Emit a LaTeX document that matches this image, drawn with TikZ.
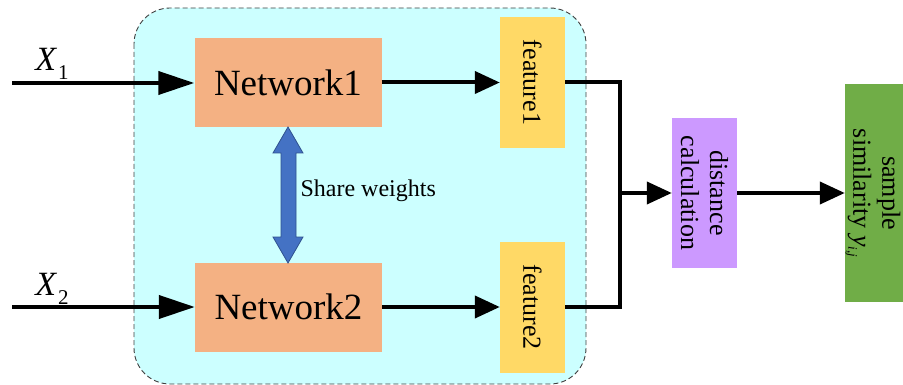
\documentclass[tikz,border=0pt]{standalone}
\usepackage{fontspec}
\setmainfont{Liberation Serif}
\usetikzlibrary{arrows.meta,calc}

\definecolor{panelbg}{RGB}{204,255,255}
\definecolor{netfill}{RGB}{244,177,131}
\definecolor{featfill}{RGB}{255,217,102}
\definecolor{distfill}{RGB}{204,153,255}
\definecolor{simfill}{RGB}{112,173,71}
\definecolor{sharefill}{RGB}{68,114,196}
\definecolor{shareedge}{RGB}{47,82,143}

\newcommand{\inputlabel}[1]{{\fontsize{34}{36}\selectfont\textit{X}}\kern1pt\raisebox{-9pt}{\fontsize{21}{22}\selectfont #1}}

\tikzset{
  netbox/.style={fill=netfill, minimum width=187pt, minimum height=89pt,
    inner sep=0pt, font=\fontsize{37}{40}\selectfont},
  featbox/.style={fill=featfill, minimum width=65pt, minimum height=131pt, inner sep=0pt},
  vlabel/.style={rotate=-90, align=center, font=\fontsize{26}{29}\selectfont},
  flow/.style={line width=4pt},
  bigtip/.style={-{Triangle[length=36pt,width=23pt]}},
  smalltip/.style={-{Triangle[length=25pt,width=22pt]}},
}

\begin{document}
\begin{tikzpicture}[x=1pt,y=-1pt]
\useasboundingbox (0,0) rectangle (903,385);
\clip (0,0) rectangle (903,385);

% shared panel behind the two branches
\draw[fill=panelbg, dash pattern=on 5pt off 3pt, draw=black!75, line width=0.9pt, rounded corners=36pt]
  (134,8) rectangle (586,384);

% boxes
\node[netbox] (n1) at (288,82.5) {Network1};
\node[netbox] (n2) at (288.5,307) {Network2};

\node[featbox] (f1) at (532.5,82.5) {};
\node[vlabel] (f1t) at (f1) {feature1};
\node[featbox] (f2) at (532.5,307) {};
\node[vlabel] (f2t) at (f2) {feature2};

\node[fill=distfill, minimum width=65pt, minimum height=150pt, inner sep=0pt]
  (d) at (704.5,193) {};
\node[vlabel] (dt) at (d) {distance\\calculation};

\node[fill=simfill, minimum width=66pt, minimum height=218pt, inner sep=0pt]
  (s) at (878,193) {};
\node[vlabel] (st) at (873,193)
  {sample\\similarity \textit{y}\raisebox{-5pt}{\fontsize{13}{14}\selectfont\textit{i,j}}};

% inputs
\coordinate (x1) at (12,83);
\coordinate (x2) at (12,307);
\node (x1t) at (52,64) {\inputlabel{1}};
\node (x2t) at (52,289) {\inputlabel{2}};

\draw[flow, bigtip] (x1) -- (x1 -| n1.west);
\draw[flow, bigtip] (x2) -- (x2 -| n2.west);

% network outputs to features
\draw[flow, smalltip] (n1.east) -- (n1.east -| f1.west);
\draw[flow, smalltip] (n2.east) -- (n2.east -| f2.west);

% merge into the distance block
\coordinate (j) at (620,193);
\draw[flow, line join=miter] (f1.east) -- (f1.east -| j) -- (f2.east -| j) -- (f2.east);
\draw[flow, smalltip] (j) -- (d.west);
\draw[flow, smalltip] (d.east) -- (s.west);

% shared-weights double arrow
\draw[fill=sharefill, draw=shareedge, line width=0.8pt]
  (288,127) -- (303,153) -- (296,153) -- (296,237) -- (303,237) -- (288,263)
  -- (273,237) -- (281,237) -- (281,153) -- (273,153) -- cycle;
\node[anchor=west, font=\fontsize{24}{26}\selectfont] (sw) at (297,191) {Share weights};
\end{tikzpicture}
\end{document}
